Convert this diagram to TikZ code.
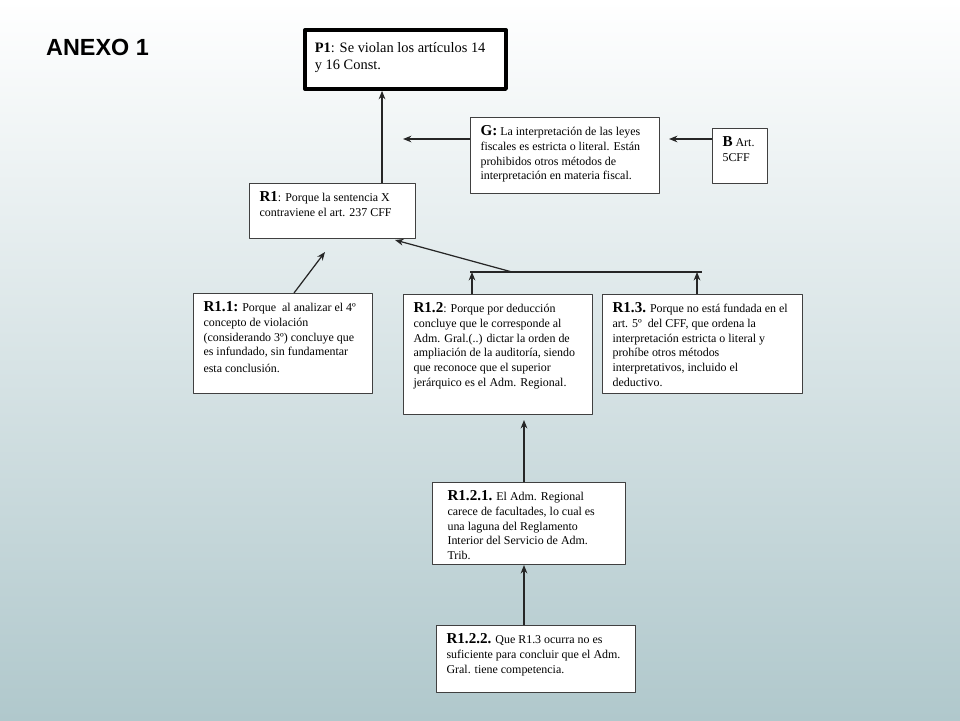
\documentclass[tikz,border=0pt]{standalone}
\usepackage{fontspec}
\setmainfont{Liberation Serif}
\newfontfamily\arialfont{Liberation Sans}
\usetikzlibrary{arrows.meta}
\definecolor{fondo}{RGB}{176,200,204}
\newcommand{\lab}[1]{{\fontsize{8.6}{9}\selectfont\bfseries #1}}
\newcommand{\caja}[3]{\begin{minipage}[t][#2][t]{#1}\raggedright #3\end{minipage}}
\begin{document}
\begin{tikzpicture}[x=0.02cm, y=-0.02cm, font=\fontsize{6.8}{8.4}\selectfont,
	line join=round, >={Stealth[length=4.8pt,width=3.8pt]},
	caja/.style={draw=black!75, fill=white, line width=0.6pt, anchor=north west,
		inner xsep=0.2cm, inner ysep=0.16cm},
	flecha/.style={->, line width=0.7pt, black!85}]
	\useasboundingbox (0,0) rectangle (960,720);
	\shade[top color=white, bottom color=fondo] (0,0) rectangle (960,720);
	\node[anchor=west, font=\arialfont\bfseries\fontsize{13.3}{15}\selectfont] (anexo) at (40,47) {ANEXO 1};
	% cajas
	\node[caja, line width=2.2pt, draw=black, inner ysep=0.26cm, font=\fontsize{8.2}{9.6}\selectfont] (p1) at (303,28)
	{\caja{3.62cm}{0.66cm}{\textbf{P1}: Se violan los artículos 14\\ y 16 Const.}};
	\node[caja] (g) at (470,117) {\caja{3.38cm}{1.20cm}{\lab{G:} La interpretación de las leyes\\
		fiscales es estricta o literal. Están\\ prohibidos otros métodos de\\
		interpretación en materia fiscal.}};
	\node[caja] (b) at (712,128) {\caja{0.70cm}{0.78cm}{\lab{B} Art.\\ 5CFF}};
	\node[caja] (r1) at (249,183) {\caja{2.92cm}{0.78cm}{\lab{R1}: Porque la sentencia X\\
		contraviene el art. 237 CFF}};
	\node[caja] (r11) at (193,293) {\caja{3.18cm}{1.68cm}{\lab{R1.1:} Porque\ \ al analizar el 4º\\
		concepto de violación\\ (considerando 3º) concluye que\\ es infundado, sin fundamentar\\[1pt]
		esta conclusión.}};
	\node[caja] (r12) at (403,294) {\caja{3.38cm}{2.08cm}{\lab{R1.2}: Porque por deducción\\
		concluye que le corresponde al\\ Adm. Gral.(..) dictar la orden de\\
		ampliación de la auditoría, siendo\\ que reconoce que el superior\\
		jerárquico es el Adm. Regional.}};
	\node[caja] (r13) at (602,294) {\caja{3.60cm}{1.66cm}{\lab{R1.3.} Porque no está fundada en el\\
		art. 5º\ \ del CFF, que ordena la\\ interpretación estricta o literal y\\
		prohíbe otros métodos\\ interpretativos, incluido el\\ deductivo.}};
	\node[caja, inner xsep=0.3cm] (r121) at (432,482) {\caja{3.26cm}{1.32cm}{\lab{R1.2.1.} El Adm. Regional\\
		carece de facultades, lo cual es\\ una laguna del Reglamento\\
		Interior del Servicio de Adm.\\ Trib.}};
	\node[caja] (r122) at (436,625) {\caja{3.58cm}{1.02cm}{\lab{R1.2.2.} Que R1.3 ocurra no es\\
		suficiente para concluir que el Adm.\\ Gral. tiene competencia.}};
	% conectores
	\path (382,0) coordinate (xa) (403,139) coordinate (gtip)
	(294,0) coordinate (x11) (325,252) coordinate (t11)
	(470,272) coordinate (bl) (702,272) coordinate (br)
	(512,272) coordinate (bm) (395,240) coordinate (t1)
	(472,272) coordinate (c12) (697,272) coordinate (c13) (524,0) coordinate (xb);
	\draw[flecha] (r1.north -| xa) -- (p1.south -| xa);
	\draw[flecha] (g.west |- gtip) -- (gtip);
	\draw[flecha, shorten >=0.18cm] (b.west |- gtip) -- (g.east |- gtip);
	\draw[flecha] (r11.north -| x11) -- (t11);
	\draw[line width=0.7pt, black!85] (bl) -- (br);
	\draw[flecha] (bm) -- (t1);
	\draw[flecha] (r12.north -| c12) -- (c12);
	\draw[flecha] (r13.north -| c13) -- (c13);
	\draw[flecha, shorten >=0.1cm] (r121.north -| xb) -- (r12.south -| xb);
	\draw[flecha] (r122.north -| xb) -- (r121.south -| xb);
\end{tikzpicture}
\end{document}
